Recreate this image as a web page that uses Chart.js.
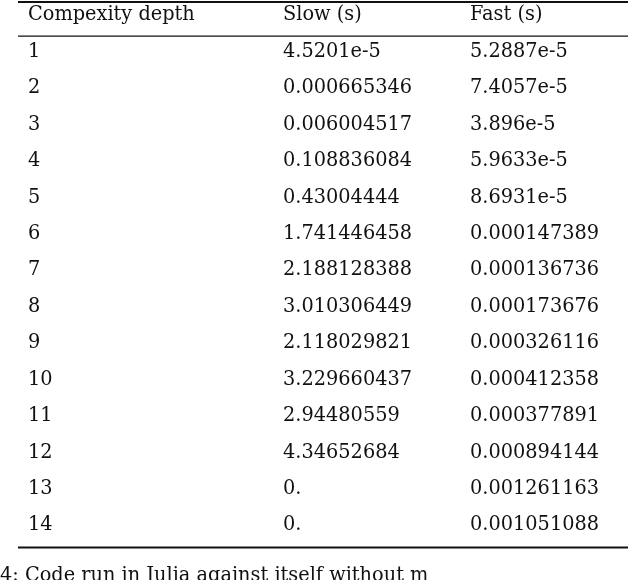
<!DOCTYPE html>
<html>
<head>
<meta charset="utf-8">
<script src="https://cdn.jsdelivr.net/npm/chart.js@4"></script>
<style>body{margin:0;background:#fff}</style>
</head>
<body>
<canvas id="tbl" width="640" height="580"></canvas>
<script>
const headers = ["Compexity depth", "Slow (s)", "Fast (s)"];
const depths = ["1","2","3","4","5","6","7","8","9","10","11","12","13","14"];
const slow = ["4.5201e-5","0.000665346","0.006004517","0.108836084","0.43004444","1.741446458","2.188128388","3.010306449","2.118029821","3.229660437","2.94480559","4.34652684","0.","0."];
const fast = ["5.2887e-5","7.4057e-5","3.896e-5","5.9633e-5","8.6931e-5","0.000147389","0.000136736","0.000173676","0.000326116","0.000412358","0.000377891","0.000894144","0.001261163","0.001051088"];
const caption = "4: Code run in Julia against itself without m";

const rowLabels = ["h"].concat(depths);
const colX = [10, 265, 452]; // left edge of each column, in x-scale units

const tablePlugin = {
  id: "tablePlugin",
  afterDraw(chart) {
    const ctx = chart.ctx;
    const xs = chart.scales.x, ys = chart.scales.y;
    ctx.save();
    ctx.fillStyle = "#111";
    ctx.font = "21px 'DejaVu Serif', serif";
    ctx.textBaseline = "middle";
    ctx.textAlign = "left";
    rowLabels.forEach((r, i) => {
      const cells = i == 0 ? headers : [depths[i-1], slow[i-1], fast[i-1]];
      const y = ys.getPixelForValue(i);
      cells.forEach((c, j) => {
        ctx.save();
        ctx.translate(xs.getPixelForValue(colX[j]), y);
        ctx.scale(0.92, 1);
        ctx.fillText(c, 0, 0);
        ctx.restore();
      });
    });
    // rules
    ctx.strokeStyle = "#111";
    const step = ys.getPixelForValue(1) - ys.getPixelForValue(0);
    const x0 = xs.getPixelForValue(0), x1 = xs.getPixelForValue(610);
    [[ys.getPixelForValue(0) - step*0.36, 2], [ys.getPixelForValue(0) + step*0.58, 1.3], [ys.getPixelForValue(14) + step*0.62, 2]].forEach(([y, w]) => {
      ctx.lineWidth = w;
      ctx.beginPath(); ctx.moveTo(x0, y); ctx.lineTo(x1, y); ctx.stroke();
    });
    ctx.save();
    ctx.translate(xs.getPixelForValue(-18), ys.getPixelForValue(14) + step*1.4);
    ctx.scale(0.92, 1);
    ctx.fillText(caption, 0, 0);
    ctx.restore();
    ctx.restore();
  }
};

new Chart(document.getElementById("tbl"), {
  type: "scatter",
  data: { datasets: [{ data: [] }] },
  options: {
    responsive: false,
    animation: false,
    layout: { padding: { left: 18, right: 12, top: 15, bottom: 55 } },
    plugins: { legend: { display: false }, tooltip: { enabled: false } },
    scales: {
      x: { type: "linear", min: 0, max: 610, display: false },
      y: { type: "linear", min: 0, max: 14, reverse: true, display: false }
    }
  },
  plugins: [tablePlugin]
});
</script>
</body>
</html>
